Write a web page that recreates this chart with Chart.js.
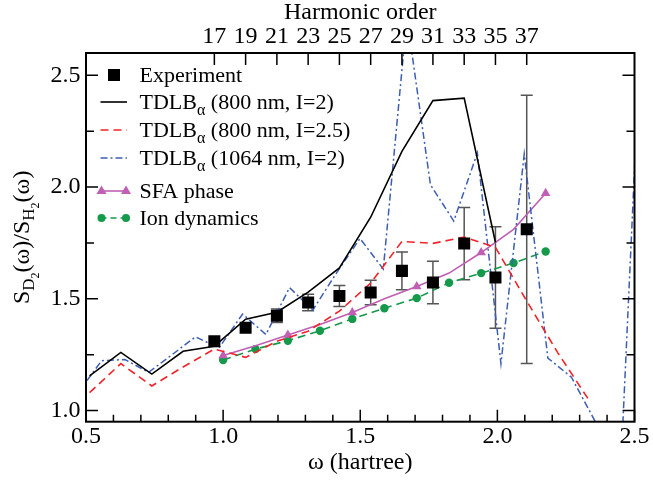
<!DOCTYPE html>
<html><head><meta charset="utf-8">
<script src="https://cdn.jsdelivr.net/npm/chart.js@4"></script>
<style>html,body{margin:0;padding:0;background:#fff}#wrap{width:653px;height:481px}</style>
</head><body><div id="wrap"><canvas id="c" width="653" height="481"></canvas></div>
<script>
// ---- data ----
const harmonicOrders = [17,19,21,23,25,27,29,31,33,35,37];
const harmonicOmega = [0.968,1.082,1.196,1.310,1.424,1.538,1.652,1.765,1.879,1.993,2.107];
const expValues = [1.31,1.37,1.424,1.483,1.513,1.528,1.625,1.573,1.747,1.595,1.811];
const expErrors = [0,0,0.03,0.037,0.047,0.055,0.084,0.095,0.162,0.227,0.6];

const omega800I2 = [0.513,0.627,0.740,0.854,0.968,1.082,1.196,1.310,1.424,1.538,1.652,1.765,1.879,1.993];
const tdlb800I2 = [1.155,1.26,1.163,1.265,1.288,1.409,1.44,1.53,1.638,1.865,2.16,2.387,2.398,1.752];
const omega800I25 = [0.513,0.627,0.740,0.854,0.968,1.082,1.196,1.310,1.424,1.538,1.652,1.765,1.879,1.993,2.107,2.221,2.335];
const tdlb800I25 = [1.08,1.21,1.11,1.195,1.275,1.238,1.31,1.355,1.445,1.57,1.757,1.748,1.776,1.73,1.49,1.257,1.045];
const omega1064 = [0.471,0.557,0.642,0.728,0.814,0.899,0.985,1.071,1.156,1.242,1.327,1.413,1.499,1.584,1.670,1.756,1.841,1.927,2.013,2.098,2.184,2.270,2.355,2.441,2.527];
const tdlb1064 = [1.08,1.223,1.228,1.171,1.25,1.33,1.28,1.432,1.34,1.55,1.45,1.615,1.77,1.633,2.76,2.01,1.848,2.153,1.21,2.148,1.235,1.149,0.955,0.5,2.8];
const omegaModel = [1.000,1.118,1.236,1.353,1.471,1.588,1.706,1.824,1.941,2.059,2.176];
const sfaPhase = [1.246,1.29,1.338,1.385,1.439,1.5,1.555,1.615,1.707,1.811,1.972];
const ionDynamics = [1.226,1.275,1.3125,1.357,1.41,1.458,1.503,1.572,1.615,1.66,1.712];

const yTickValues = [1.0,1.5,2.0,2.5];

// ---- style ----
const FAM = 'Liberation Serif';
Chart.defaults.font.family = FAM;
const C_RED = '#f2232a', C_BLUE = '#3b5db5', C_MAG = '#c05fb4', C_GRN = '#15994b';
const tickFont = {family: FAM, size: 24, lineHeight: 1};

const pts = (xs, ys) => ys.map((v, i) => ({x: xs[i], y: v}));

function drawSegs(ctx, segs, x, y) {
  for (const s of segs) {
    ctx.font = s.size + 'px "' + FAM + '"';
    ctx.fillText(s.t, x, y + (s.dy || 0));
    x += ctx.measureText(s.t).width;
  }
  return x;
}
function segsWidth(ctx, segs) {
  let w = 0;
  for (const s of segs) { ctx.font = s.size + 'px "' + FAM + '"'; w += ctx.measureText(s.t).width; }
  return w;
}

const decorations = {
  id: 'decorations',
  beforeDatasetsDraw(chart) {
    const {ctx, scales: {x, y}} = chart;
    ctx.save();
    ctx.strokeStyle = '#555'; ctx.lineWidth = 1.5;
    harmonicOmega.forEach((w, i) => {
      const e = expErrors[i]; if (!e) return;
      const px = x.getPixelForValue(w);
      const yt = y.getPixelForValue(expValues[i] + e), yb = y.getPixelForValue(expValues[i] - e);
      ctx.beginPath();
      ctx.moveTo(px, yt); ctx.lineTo(px, yb);
      ctx.moveTo(px - 6, yt); ctx.lineTo(px + 6, yt);
      ctx.moveTo(px - 6, yb); ctx.lineTo(px + 6, yb);
      ctx.stroke();
    });
    ctx.restore();
  },
  afterDraw(chart) {
    const {ctx, chartArea: a, scales: {x, y}} = chart;
    ctx.save();
    ctx.strokeStyle = '#000'; ctx.lineWidth = 1.5;
    ctx.beginPath();
    for (let k = 5; k <= 25; k++) {
      const v = k / 10, px = x.getPixelForValue(v), L = (k % 5 === 0) ? 12 : 7;
      ctx.moveTo(px, a.bottom); ctx.lineTo(px, a.bottom - L);
    }
    harmonicOmega.forEach(w => { const px = x.getPixelForValue(w); ctx.moveTo(px, a.top); ctx.lineTo(px, a.top + 12); });
    for (let k = 4; k <= 10; k++) {
      const v = k / 4, py = y.getPixelForValue(v), L = (k % 2 === 0) ? 12 : 8;
      ctx.moveTo(a.left, py); ctx.lineTo(a.left + L, py);
      ctx.moveTo(a.right, py); ctx.lineTo(a.right - L, py);
    }
    ctx.stroke();
    ctx.lineWidth = 2;
    ctx.strokeRect(a.left, a.top, a.right - a.left, a.bottom - a.top);

    ctx.fillStyle = '#000';
    ctx.textBaseline = 'alphabetic';
    const ySegs = [
      {t: 'S', size: 24}, {t: 'D', size: 17, dy: 5}, {t: '2', size: 12, dy: 10},
      {t: '(ω)/S', size: 24}, {t: 'H', size: 17, dy: 5}, {t: '2', size: 12, dy: 10}, {t: '(ω)', size: 24}
    ];
    ctx.save();
    ctx.translate(29, (a.top + a.bottom) / 2);
    ctx.rotate(-Math.PI / 2);
    drawSegs(ctx, ySegs, -segsWidth(ctx, ySegs) / 2, 0);
    ctx.restore();

    const tx = 139.5, x0 = 100.5, x1 = 127;
    const rows = [
      {cy: 74, segs: [{t: 'Experiment', size: 22}], sym: 'sq'},
      {cy: 101, segs: [{t: 'TDLB', size: 22}, {t: 'α', size: 16, dy: 6}, {t: ' (800 nm, I=2)', size: 22}], sym: 'k'},
      {cy: 129, segs: [{t: 'TDLB', size: 22}, {t: 'α', size: 16, dy: 6}, {t: ' (800 nm, I=2.5)', size: 22}], sym: 'r'},
      {cy: 157, segs: [{t: 'TDLB', size: 22}, {t: 'α', size: 16, dy: 6}, {t: ' (1064 nm, I=2)', size: 22}], sym: 'b'},
      {cy: 190, segs: [{t: 'SFA phase', size: 22}], sym: 'm'},
      {cy: 217, segs: [{t: 'Ion dynamics', size: 22}], sym: 'g'}
    ];
    rows.forEach(r => {
      ctx.fillStyle = '#000';
      drawSegs(ctx, r.segs, tx, r.cy + 7.5);
      const sy = r.cy + 1;
      ctx.lineWidth = 1.6;
      ctx.setLineDash([]);
      if (r.sym === 'sq') {
        ctx.fillRect(114 - 6, sy - 6, 12, 12);
      } else if (r.sym === 'k') {
        ctx.strokeStyle = '#000'; ctx.beginPath(); ctx.moveTo(x0, sy); ctx.lineTo(x1, sy); ctx.stroke();
      } else if (r.sym === 'r') {
        ctx.strokeStyle = C_RED; ctx.setLineDash([8, 5]); ctx.beginPath(); ctx.moveTo(x0, sy); ctx.lineTo(x1, sy); ctx.stroke();
      } else if (r.sym === 'b') {
        ctx.strokeStyle = C_BLUE; ctx.setLineDash([7, 3, 2, 3]); ctx.beginPath(); ctx.moveTo(x0, sy); ctx.lineTo(x1, sy); ctx.stroke();
      } else if (r.sym === 'm') {
        ctx.strokeStyle = C_MAG; ctx.fillStyle = C_MAG; ctx.beginPath(); ctx.moveTo(x0, sy); ctx.lineTo(x1, sy); ctx.stroke();
        [x0 + 1, x1 - 1].forEach(cx => { ctx.beginPath(); ctx.moveTo(cx, sy - 5.5); ctx.lineTo(cx + 5, sy + 3); ctx.lineTo(cx - 5, sy + 3); ctx.closePath(); ctx.fill(); });
      } else if (r.sym === 'g') {
        ctx.strokeStyle = C_GRN; ctx.fillStyle = C_GRN; ctx.setLineDash([6, 4]); ctx.beginPath(); ctx.moveTo(x0, sy); ctx.lineTo(x1, sy); ctx.stroke();
        ctx.setLineDash([]);
        [x0 + 1, x1 - 1].forEach(cx => { ctx.beginPath(); ctx.arc(cx, sy, 4, 0, Math.PI * 2); ctx.fill(); });
      }
    });
    ctx.restore();
  }
};

new Chart(document.getElementById('c'), {
  type: 'line',
  data: {
    datasets: [
      {label: 'Experiment', data: pts(harmonicOmega, expValues), showLine: false,
        pointStyle: 'rect', pointRadius: 8.5, pointBackgroundColor: '#000', pointBorderColor: '#000', pointBorderWidth: 0},
      {label: 'TDLB800 I=2', data: pts(omega800I2, tdlb800I2), borderColor: '#000', borderWidth: 1.6, pointRadius: 0},
      {label: 'TDLB800 I=2.5', data: pts(omega800I25, tdlb800I25), borderColor: C_RED, borderWidth: 1.6, borderDash: [8, 5], pointRadius: 0},
      {label: 'TDLB1064 I=2', data: pts(omega1064, tdlb1064), borderColor: C_BLUE, borderWidth: 1.5, borderDash: [7, 3, 2, 3], pointRadius: 0},
      {label: 'SFA phase', data: pts(omegaModel, sfaPhase), borderColor: C_MAG, borderWidth: 1.6,
        pointStyle: 'triangle', pointRadius: c => (c.dataIndex % 2 === 0 ? 5.5 : 0),
        pointBackgroundColor: C_MAG, pointBorderColor: C_MAG, pointBorderWidth: 0},
      {label: 'Ion dynamics', data: pts(omegaModel, ionDynamics), borderColor: C_GRN, borderWidth: 1.6, borderDash: [8, 5],
        pointStyle: 'circle', pointRadius: 4.2, pointBackgroundColor: C_GRN, pointBorderColor: C_GRN, pointBorderWidth: 0}
    ]
  },
  options: {
    responsive: false, animation: false,
    layout: {padding: {left: 0, right: 16.5, top: 0, bottom: 0}},
    elements: {line: {tension: 0, fill: false}},
    plugins: {legend: {display: false}, tooltip: {enabled: false}},
    scales: {
      x: {type: 'linear', position: 'bottom', min: 0.5, max: 2.5,
        afterFit: s => { s.height = 59.3; },
        grid: {display: false, drawTicks: false}, border: {display: false},
        ticks: {stepSize: 0.5, font: tickFont, color: '#000', padding: 3.5, maxRotation: 0, autoSkip: false},
        title: {display: true, text: 'ω (hartree)', font: tickFont, color: '#000', padding: {top: 0, bottom: 6}}},
      x2: {type: 'linear', position: 'top', min: 0.5, max: 2.5,
        afterFit: s => { s.height = 53; },
        afterBuildTicks: s => { s.ticks = harmonicOmega.map(v => ({value: v})); },
        grid: {display: false, drawTicks: false}, border: {display: false},
        ticks: {font: tickFont, color: '#000', padding: 4, maxRotation: 0, autoSkip: false,
          callback: (v, i) => String(harmonicOrders[i])},
        title: {display: true, text: 'Harmonic order', font: tickFont, color: '#000', padding: {top: 1, bottom: 0}}},
      y: {type: 'linear', position: 'left', min: 0.95, max: 2.6,
        afterFit: s => { s.width = 86; },
        afterBuildTicks: s => { s.ticks = yTickValues.map(v => ({value: v})); },
        grid: {display: false, drawTicks: false}, border: {display: false},
        ticks: {font: tickFont, color: '#000', padding: 5.5, callback: v => Number(v).toFixed(1)}}
    }
  },
  plugins: [decorations]
});
</script>
</body></html>
